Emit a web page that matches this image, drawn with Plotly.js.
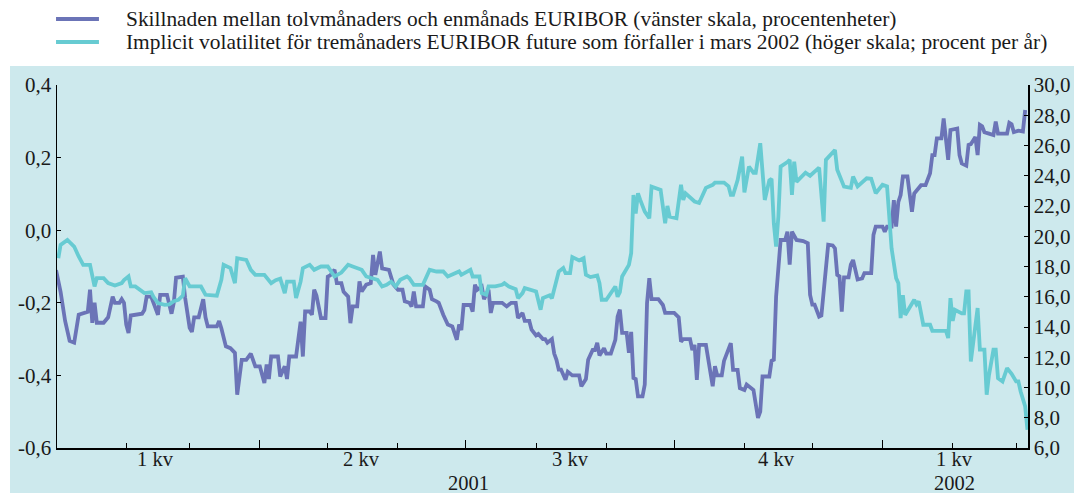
<!DOCTYPE html>
<html><head><meta charset="utf-8">
<script src="https://cdn.plot.ly/plotly-3.0.1.min.js"></script>
<style>html,body{margin:0;padding:0;background:#fff}#chart{width:1074px;height:493px}</style>
</head><body><div id="chart"></div>
<script>
const seriesNames = [
  'Skillnaden mellan tolvmånaders och enmånads EURIBOR (vänster skala, procentenheter)',
  'Implicit volatilitet för tremånaders EURIBOR future som förfaller i mars 2002 (höger skala; procent per år)'
];
const seriesColors = ['#6b74b7', '#67cbd2'];

const spreadDates = [
  '2001-01-01','2001-01-03','2001-01-05','2001-01-07','2001-01-09','2001-01-11','2001-01-15','2001-01-16','2001-01-17','2001-01-18','2001-01-19','2001-01-22','2001-01-24','2001-01-26','2001-01-27','2001-01-29','2001-01-30','2001-01-31',
  '2001-02-01','2001-02-02','2001-02-03','2001-02-08','2001-02-09','2001-02-10','2001-02-12','2001-02-13','2001-02-15','2001-02-16','2001-02-19','2001-02-21','2001-02-22','2001-02-23','2001-02-26','2001-02-27',
  '2001-03-01','2001-03-02','2001-03-03','2001-03-05','2001-03-07','2001-03-08','2001-03-09','2001-03-13','2001-03-14','2001-03-15','2001-03-17','2001-03-19','2001-03-21','2001-03-22','2001-03-24','2001-03-26','2001-03-28','2001-03-30',
  '2001-04-01','2001-04-03','2001-04-04','2001-04-05','2001-04-06','2001-04-09','2001-04-10','2001-04-12','2001-04-13','2001-04-14','2001-04-17','2001-04-19','2001-04-20','2001-04-21','2001-04-23','2001-04-24','2001-04-25','2001-04-26','2001-04-28','2001-04-30',
  '2001-05-01','2001-05-02','2001-05-04','2001-05-05','2001-05-07','2001-05-08','2001-05-10','2001-05-11','2001-05-12','2001-05-14','2001-05-15','2001-05-16','2001-05-18','2001-05-20','2001-05-21','2001-05-22','2001-05-24','2001-05-25','2001-05-28','2001-05-30',
  '2001-06-01','2001-06-03','2001-06-04','2001-06-06','2001-06-07','2001-06-08','2001-06-09','2001-06-12','2001-06-13','2001-06-15','2001-06-16','2001-06-18','2001-06-19','2001-06-21','2001-06-23','2001-06-25','2001-06-27','2001-06-28','2001-06-29','2001-06-30',
  '2001-07-03','2001-07-04','2001-07-05','2001-07-06','2001-07-08','2001-07-09','2001-07-11','2001-07-12','2001-07-13','2001-07-17','2001-07-19','2001-07-21','2001-07-23','2001-07-24','2001-07-26','2001-07-27','2001-07-29','2001-07-30',
  '2001-08-01','2001-08-02','2001-08-04','2001-08-05','2001-08-06','2001-08-08','2001-08-09','2001-08-10','2001-08-11','2001-08-12','2001-08-14','2001-08-15','2001-08-17','2001-08-20','2001-08-21','2001-08-23','2001-08-24','2001-08-26','2001-08-27','2001-08-28','2001-08-29','2001-08-31',
  '2001-09-01','2001-09-03','2001-09-05','2001-09-06','2001-09-07','2001-09-08','2001-09-10','2001-09-11','2001-09-12','2001-09-13','2001-09-14','2001-09-15','2001-09-17','2001-09-18','2001-09-19','2001-09-20','2001-09-21','2001-09-24','2001-09-26','2001-09-27',
  '2001-10-01','2001-10-03','2001-10-04','2001-10-05','2001-10-08','2001-10-09','2001-10-10','2001-10-11','2001-10-12','2001-10-15','2001-10-16','2001-10-18','2001-10-19','2001-10-20','2001-10-22','2001-10-23','2001-10-26','2001-10-27','2001-10-29','2001-10-30',
  '2001-11-01','2001-11-02','2001-11-05','2001-11-06','2001-11-07','2001-11-08','2001-11-09','2001-11-12','2001-11-13','2001-11-14','2001-11-15','2001-11-17','2001-11-19','2001-11-20','2001-11-21','2001-11-22','2001-11-24','2001-11-27','2001-11-29','2001-11-30',
  '2001-12-01','2001-12-02','2001-12-04','2001-12-05','2001-12-07','2001-12-08','2001-12-10','2001-12-11','2001-12-12','2001-12-13','2001-12-14','2001-12-15','2001-12-17','2001-12-18','2001-12-19','2001-12-21','2001-12-23','2001-12-24','2001-12-27','2001-12-28','2001-12-29',
  '2002-01-01','2002-01-02','2002-01-03','2002-01-05','2002-01-06','2002-01-07','2002-01-08','2002-01-09','2002-01-10','2002-01-12','2002-01-14','2002-01-15','2002-01-17','2002-01-18','2002-01-20','2002-01-22','2002-01-23','2002-01-24','2002-01-25','2002-01-27','2002-01-28','2002-01-29','2002-01-30','2002-01-31',
  '2002-02-03','2002-02-04','2002-02-05','2002-02-07','2002-02-08','2002-02-09','2002-02-11','2002-02-12','2002-02-13','2002-02-14','2002-02-15','2002-02-17','2002-02-19','2002-02-20','2002-02-21','2002-02-25','2002-02-26','2002-02-27','2002-02-28',
  '2002-03-02','2002-03-04','2002-03-05'
];
const spreadValues = [
  -0.11,-0.17,-0.25,-0.305,-0.31,-0.233,-0.225,-0.164,-0.255,-0.2,-0.255,-0.255,-0.24,-0.183,-0.2,-0.2,-0.19,-0.2,
  -0.26,-0.283,-0.235,-0.23,-0.22,-0.183,-0.183,-0.2,-0.233,-0.178,-0.178,-0.23,-0.2,-0.131,-0.128,-0.186,
  -0.269,-0.28,-0.24,-0.24,-0.19,-0.24,-0.265,-0.265,-0.25,-0.27,-0.32,-0.325,-0.338,-0.453,-0.357,-0.357,-0.34,-0.375,
  -0.375,-0.421,-0.37,-0.41,-0.348,-0.348,-0.403,-0.375,-0.41,-0.348,-0.348,-0.252,-0.348,-0.224,-0.224,-0.233,-0.164,-0.18,-0.242,-0.242,
  -0.128,-0.125,-0.109,-0.146,-0.146,-0.17,-0.183,-0.256,-0.21,-0.21,-0.141,-0.169,-0.15,-0.146,-0.068,-0.123,-0.059,-0.105,-0.109,-0.15,
  -0.164,-0.164,-0.196,-0.2,-0.21,-0.169,-0.21,-0.21,-0.155,-0.164,-0.19,-0.196,-0.2,-0.233,-0.26,-0.265,-0.302,-0.26,-0.275,-0.206,
  -0.206,-0.224,-0.15,-0.164,-0.155,-0.19,-0.164,-0.228,-0.2,-0.2,-0.21,-0.2,-0.2,-0.242,-0.228,-0.25,-0.25,-0.274,
  -0.29,-0.286,-0.3,-0.3,-0.31,-0.3,-0.34,-0.357,-0.384,-0.384,-0.412,-0.39,-0.40,-0.40,-0.43,-0.41,-0.357,-0.33,-0.33,-0.31,-0.345,-0.325,
  -0.34,-0.34,-0.302,-0.238,-0.219,-0.283,-0.283,-0.338,-0.28,-0.407,-0.41,-0.458,-0.458,-0.425,-0.201,-0.132,-0.19,-0.19,-0.206,-0.228,
  -0.228,-0.24,-0.307,-0.30,-0.30,-0.33,-0.316,-0.412,-0.316,-0.316,-0.357,-0.43,-0.375,-0.40,-0.40,-0.36,-0.311,-0.385,-0.385,-0.435,
  -0.44,-0.425,-0.44,-0.485,-0.517,-0.50,-0.403,-0.403,-0.36,-0.357,-0.183,-0.027,-0.027,-0.004,-0.095,-0.004,-0.027,-0.03,-0.036,-0.178,
  -0.205,-0.205,-0.238,-0.235,-0.086,-0.04,-0.042,-0.05,-0.123,-0.127,-0.224,-0.13,-0.13,-0.095,-0.082,-0.136,-0.133,-0.118,-0.118,-0.013,0.01,
  0.01,-0.004,0.01,0.01,0.083,0.01,0.078,0.097,0.148,0.148,0.051,0.101,0.115,0.124,0.124,0.157,0.207,0.207,0.253,0.253,0.308,0.253,0.194,0.276,
  0.28,0.207,0.184,0.178,0.235,0.237,0.257,0.207,0.29,0.286,0.27,0.266,0.262,0.299,0.266,0.266,0.296,0.292,0.27,
  0.274,0.272,0.331
];

const volDates = [
  '2001-01-02','2001-01-03','2001-01-06','2001-01-09','2001-01-11','2001-01-13','2001-01-16','2001-01-18','2001-01-19','2001-01-22','2001-01-24','2001-01-27','2001-01-30','2001-01-31',
  '2001-02-02','2001-02-03','2001-02-05','2001-02-07','2001-02-09','2001-02-12','2001-02-13','2001-02-15','2001-02-18','2001-02-20','2001-02-22','2001-02-24','2001-02-26','2001-02-27',
  '2001-03-01','2001-03-06','2001-03-08','2001-03-13','2001-03-15','2001-03-16','2001-03-19','2001-03-21','2001-03-22','2001-03-26','2001-03-28','2001-03-30',
  '2001-04-03','2001-04-06','2001-04-08','2001-04-10','2001-04-12','2001-04-13','2001-04-16','2001-04-17','2001-04-19','2001-04-20','2001-04-23','2001-04-25','2001-04-28',
  '2001-05-01','2001-05-04','2001-05-07','2001-05-10','2001-05-12','2001-05-16','2001-05-18','2001-05-21','2001-05-23','2001-05-25','2001-05-27','2001-05-29','2001-05-31',
  '2001-06-02','2001-06-05','2001-06-06','2001-06-08','2001-06-12','2001-06-15','2001-06-18','2001-06-21','2001-06-23','2001-06-26','2001-06-28','2001-06-29',
  '2001-07-03','2001-07-04','2001-07-07','2001-07-08','2001-07-10','2001-07-11','2001-07-14','2001-07-17','2001-07-18','2001-07-20','2001-07-22','2001-07-23','2001-07-24','2001-07-26','2001-07-27','2001-07-29',
  '2001-08-01','2001-08-03','2001-08-04','2001-08-07','2001-08-08','2001-08-11','2001-08-13','2001-08-14','2001-08-16','2001-08-17','2001-08-20','2001-08-22','2001-08-23','2001-08-25','2001-08-28','2001-08-29','2001-08-30',
  '2001-09-01','2001-09-03','2001-09-05','2001-09-06','2001-09-07','2001-09-08','2001-09-11','2001-09-12','2001-09-13','2001-09-14','2001-09-15','2001-09-16','2001-09-18','2001-09-20','2001-09-21','2001-09-23','2001-09-25','2001-09-27','2001-09-28','2001-09-29',
  '2001-10-02','2001-10-04','2001-10-05','2001-10-06','2001-10-08','2001-10-10','2001-10-12','2001-10-13','2001-10-15','2001-10-18','2001-10-19','2001-10-23','2001-10-25','2001-10-26','2001-10-27','2001-10-29','2001-10-31',
  '2001-11-01','2001-11-03','2001-11-05','2001-11-06','2001-11-08','2001-11-09','2001-11-10','2001-11-12','2001-11-13','2001-11-14','2001-11-15','2001-11-16','2001-11-17','2001-11-20','2001-11-21','2001-11-22','2001-11-23','2001-11-24','2001-11-27','2001-11-28','2001-11-30',
  '2001-12-02','2001-12-04','2001-12-06','2001-12-07','2001-12-11','2001-12-12','2001-12-15','2001-12-18','2001-12-19','2001-12-21','2001-12-25','2001-12-27','2001-12-29',
  '2002-01-01','2002-01-03','2002-01-04','2002-01-05','2002-01-07','2002-01-08','2002-01-09','2002-01-10','2002-01-11','2002-01-15','2002-01-16','2002-01-17','2002-01-19','2002-01-22','2002-01-23','2002-01-29','2002-01-30','2002-01-31',
  '2002-02-01','2002-02-02','2002-02-05','2002-02-06','2002-02-07','2002-02-08','2002-02-09','2002-02-11','2002-02-12','2002-02-13','2002-02-15','2002-02-16','2002-02-17','2002-02-19','2002-02-20','2002-02-21','2002-02-23','2002-02-25','2002-02-27',
  '2002-03-01','2002-03-02','2002-03-03','2002-03-05','2002-03-06'
];
const volValues = [
  18.55,19.43,19.76,19.32,18.66,18.11,18.11,16.68,17.23,17.23,16.9,16.74,16.9,17.1,
  17.34,16.68,16.68,16.46,16.24,16.3,16.0,15.58,15.47,15.5,15.7,15.8,16.08,17.23,
  16.68,16.68,16.13,16.07,17.12,18.11,17.9,16.9,18.55,18.44,17.78,17.45,
  17.45,16.9,17.1,17.2,16.24,17.0,17.0,15.91,17.0,17.89,18.11,17.78,18.0,
  18.0,17.34,17.6,18.11,18.0,17.78,17.34,17.23,17.12,16.68,16.79,17.0,16.68,
  17.12,17.34,17.23,16.79,16.79,17.78,17.67,17.67,17.34,17.56,17.67,17.45,
  17.78,17.34,17.34,16.24,16.13,16.68,16.68,16.79,16.9,16.68,16.57,16.5,15.91,16.24,16.57,16.46,
  16.35,15.14,15.91,16.1,15.9,17.67,17.9,17.56,17.56,18.62,18.4,18.55,17.45,17.3,17.4,16.9,15.8,
  15.8,16.2,16.68,16.0,16.3,17.34,18.11,18.88,22.73,21.5,22.84,22.4,21.63,21.19,23.28,23.17,23.06,20.86,22.0,21.3,
  21.2,23.4,22.4,22.84,22.6,22.3,22.2,22.5,23.2,23.4,23.55,23.55,23.3,22.73,22.73,23.72,25.27,
  22.9,24.6,24.2,24.2,26.15,23.9,22.4,23.7,23.8,20.86,19.32,21.3,24.6,24.9,25.05,22.73,24.93,23.6,24.05,24.2,24.0,
  24.3,24.54,20.97,25.05,25.7,24.4,23.28,23.2,23.94,23.3,23.83,23.8,22.84,
  23.4,23.3,21.4,19.2,17.23,16.9,14.59,16.1,14.8,15.8,15.5,15.7,14.15,14.15,13.75,13.75,13.27,15.91,
  14.4,15.14,14.9,14.9,16.35,16.35,11.72,13.8,15.25,12.5,12.5,9.52,10.8,12.5,12.5,10.62,10.4,11.28,10.9,
  10.4,10.4,9.74,8.75,7.2
];

const xRange = ['2001-01-01 10:00', '2002-03-06 06:00'];
const quarterTicks = ['2001-04-01','2001-07-01','2001-10-01','2002-01-01'];
const monthTicks = ['2001-02-01','2001-03-01','2001-05-01','2001-06-01','2001-08-01','2001-09-01','2001-11-01','2001-12-01','2002-02-01','2002-03-01'];
const quarterLabels = ['1 kv','2 kv','3 kv','4 kv','1 kv'];
const quarterLabelDates = ['2001-02-14','2001-05-16','2001-08-16','2001-11-15','2002-02-02'];
const yearLabels = ['2001','2002'];
const yearLabelDates = ['2001-07-02','2002-02-02'];
const leftTickVals = [-0.6,-0.4,-0.2,0,0.2,0.4];
const leftTickText = ['-0,6','-0,4','-0,2','0,0','0,2','0,4'];
const rightTickVals = [6,8,10,12,14,16,18,20,22,24,26,28,30];
const rightTickText = ['6,0','8,0','10,0','12,0','14,0','16,0','18,0','20,0','22,0','24,0','26,0','28,0','30,0'];

const FONT = 'Liberation Serif, Times New Roman, serif';
const BG = '#cde9ed';
const TXT = '#1a1a1a';

const traces = [
  {x: spreadDates, y: spreadValues, type: 'scatter', mode: 'lines', name: seriesNames[0],
   line: {color: seriesColors[0], width: 3.8}, yaxis: 'y', hoverinfo: 'skip'},
  {x: volDates, y: volValues, type: 'scatter', mode: 'lines', name: seriesNames[1],
   line: {color: seriesColors[1], width: 3.8}, yaxis: 'y2', hoverinfo: 'skip'}
];

const annotations = [];
quarterLabels.forEach((t, i) => annotations.push({
  text: t, x: quarterLabelDates[i], xref: 'x', y: -0.030, yref: 'paper',
  xanchor: 'center', yanchor: 'middle', showarrow: false, borderpad: 0,
  font: {family: FONT, size: 20.5, color: TXT}
}));
yearLabels.forEach((t, i) => annotations.push({
  text: t, x: yearLabelDates[i], xref: 'x', y: -0.097, yref: 'paper',
  xanchor: 'center', yanchor: 'middle', showarrow: false, borderpad: 0,
  font: {family: FONT, size: 20.5, color: TXT}
}));
const legendY = [1.1818, 1.1185];
seriesNames.forEach((t, i) => annotations.push({
  text: t, x: 0.070, xref: 'paper', y: legendY[i], yref: 'paper',
  xanchor: 'left', yanchor: 'middle', showarrow: false, borderpad: 0,
  font: {family: FONT, size: 21.4, color: TXT}
}));

const shapes = [
  {type: 'rect', xref: 'paper', yref: 'paper', x0: -0.0484, x1: 1.06, y0: -0.13, y1: 1.0523,
   fillcolor: BG, line: {width: 0}, layer: 'below'}
];
seriesColors.forEach((c, i) => shapes.push({
  type: 'line', xref: 'paper', yref: 'paper', x0: -0.001, x1: 0.0432, y0: legendY[i], y1: legendY[i],
  line: {color: c, width: 4}
}));

const axisCommon = {
  showline: true, linecolor: '#000', linewidth: 1.5, ticks: 'inside', tickcolor: '#000',
  tickwidth: 1, showgrid: false, zeroline: false, fixedrange: true
};

const layout = {
  width: 1074, height: 493,
  margin: {l: 57, r: 46, t: 85, b: 45},
  paper_bgcolor: '#ffffff', plot_bgcolor: BG,
  showlegend: false,
  font: {family: FONT, size: 20, color: TXT},
  xaxis: Object.assign({}, axisCommon, {
    type: 'date', range: xRange, tickmode: 'array', tickvals: quarterTicks, ticklen: 8,
    showticklabels: false,
    minor: {tickmode: 'array', tickvals: monthTicks, ticks: 'inside', ticklen: 5, tickcolor: '#000', tickwidth: 1, showgrid: false}
  }),
  yaxis: Object.assign({}, axisCommon, {
    range: [-0.6, 0.4], tickmode: 'array', tickvals: leftTickVals, ticktext: leftTickText, ticklen: 4,
    tickfont: {family: FONT, size: 21, color: TXT}
  }),
  yaxis2: Object.assign({}, axisCommon, {
    range: [6, 30], overlaying: 'y', side: 'right', tickmode: 'array', tickvals: rightTickVals,
    ticktext: rightTickText, ticklen: 4, tickfont: {family: FONT, size: 21, color: TXT}
  }),
  annotations: annotations,
  shapes: shapes
};

Plotly.newPlot('chart', traces, layout, {staticPlot: true, displayModeBar: false});
</script>
</body></html>
